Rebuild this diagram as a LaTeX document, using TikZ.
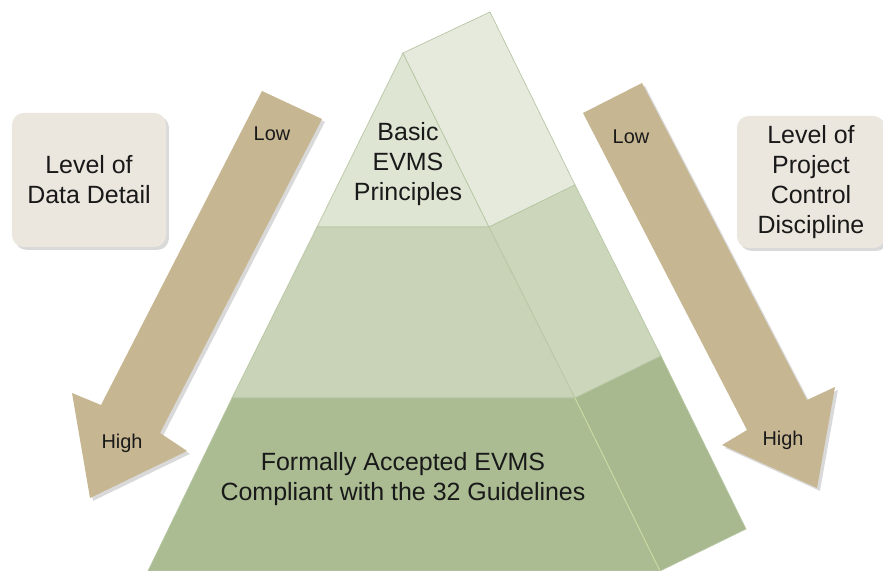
\documentclass[tikz,border=0pt]{standalone}
\usepackage{fontspec}
\setmainfont{Liberation Sans}
\definecolor{evms_tan}{RGB}{199, 182, 146}
\definecolor{evms_box}{RGB}{236, 231, 222}
\definecolor{evms_top}{RGB}{222, 229, 211}
\definecolor{evms_topside}{RGB}{229, 234, 221}
\definecolor{evms_mid}{RGB}{200, 211, 183}
\definecolor{evms_midside}{RGB}{203, 214, 187}
\definecolor{evms_low}{RGB}{171, 188, 147}
\definecolor{evms_lowside}{RGB}{168, 185, 143}
\definecolor{evms_edge}{RGB}{184, 199, 164}
\definecolor{evms_ridge}{RGB}{200, 218, 160}
\definecolor{evms_text}{RGB}{25, 25, 25}
\usetikzlibrary{shadows}

\begin{document}
\begin{tikzpicture}[x=0.03cm, y=-0.03cm,
            face/.style={draw=evms_edge, line width=0.6pt, line join=round},
            bigarrow/.style={fill=evms_tan, drop shadow={opacity=0.3,
                        shadow xshift=2.5pt, shadow yshift=-2.5pt}},
            legend/.style={fill=evms_box, rounded corners=10pt, align=center,
                        text=evms_text, font=\fontsize{21.3}{25.6}\selectfont,
                        drop shadow={opacity=0.3, shadow xshift=2.5pt, shadow yshift=-2.5pt}},
            tier/.style={align=center, text=evms_text,
                        font=\fontsize{21.3}{25.6}\selectfont},
            tag/.style={text=evms_text, font=\fontsize{17}{20}\selectfont}]
            \useasboundingbox (0,0) rectangle (883,571);
            % pyramid
            \filldraw[face, fill=evms_top] (403,53) -- (489,227) -- (317,227) -- cycle;
            \filldraw[face, fill=evms_topside] (403,53) -- (490,12) -- (575,185)
              -- (489,227) -- cycle;
            \filldraw[face, fill=evms_mid] (317,227) -- (489,227) -- (575,398)
              -- (232,398) -- cycle;
            \filldraw[face, fill=evms_midside] (489,227) -- (575,185) -- (661,356)
              -- (575,398) -- cycle;
            \filldraw[face, fill=evms_low] (232,398) -- (575,398) -- (660,571)
              -- (148,571) -- cycle;
            \filldraw[face, fill=evms_lowside] (575,398) -- (661,356) -- (746,529)
              -- (660,571) -- cycle;
            \draw[evms_ridge, line width=0.8pt] (575,398) -- (660,571);
            \node[tier] (tierTop) at (408,164) {Basic\\EVMS\\Principles};
            \node[tier] (tierBase) at (403,479)
              {Formally Accepted EVMS\\Compliant with the 32 Guidelines};
            % arrows
            \fill[bigarrow] (262,91) -- (322,119) -- (160,433) -- (187,451)
              -- (90,498) -- (72,393) -- (101,405) -- cycle;
            \fill[bigarrow] (583,113) -- (642,83) -- (807,400) -- (835,387)
              -- (817,488) -- (722,445) -- (747,430) -- cycle;
            \node[tag] (lowL) at (272,134) {Low};
            \node[tag] (highL) at (122,443) {High};
            \node[tag] (lowR) at (631,137) {Low};
            \node[tag] (highR) at (783,440) {High};
            % boxes
            \node[legend, minimum width=4.62cm, minimum height=4.02cm]
              (dataBox) at (89,180) {Level of\\Data Detail};
            \node[legend, minimum width=4.44cm, minimum height=3.96cm]
              (ctrlBox) at (811,182) {Level of\\Project\\Control\\Discipline};
          \end{tikzpicture}
\end{document}
